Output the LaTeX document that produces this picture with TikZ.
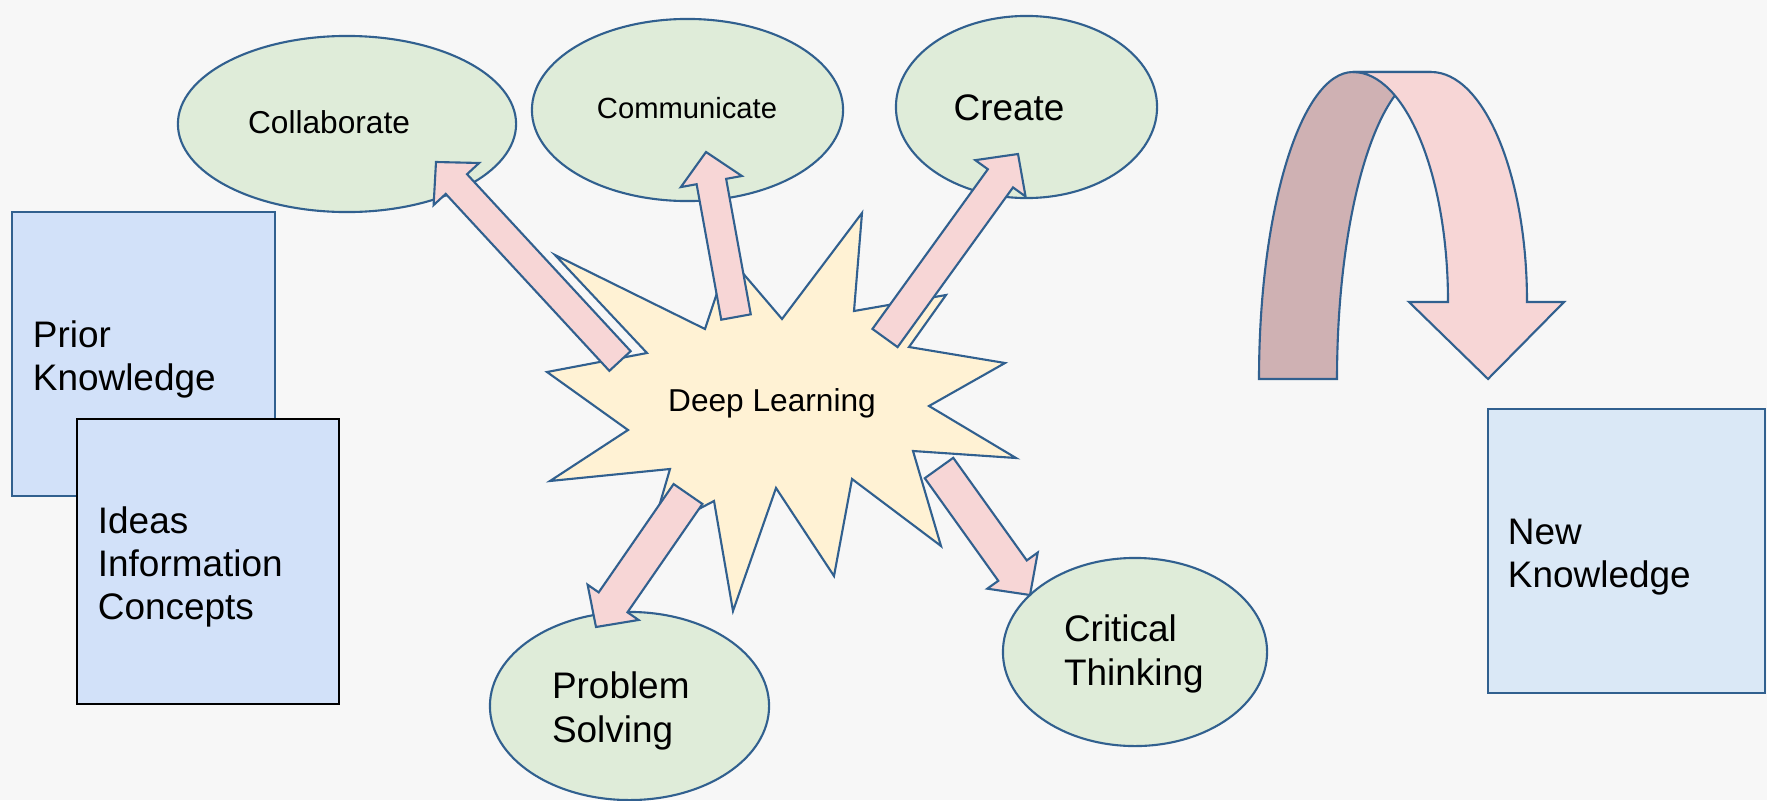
\documentclass[tikz,border=0pt]{standalone}
\usepackage{fontspec}
\setmainfont{Liberation Sans}
\usepackage{tikz}
\usetikzlibrary{calc,shapes.geometric}
\definecolor{bgcol}{HTML}{F7F7F7}
\definecolor{edgeblue}{HTML}{31608F}
\definecolor{bubblegreen}{HTML}{DFECD9}
\definecolor{boxblue}{HTML}{D2E1F9}
\definecolor{newblue}{HTML}{DAE8F6}
\definecolor{starfill}{HTML}{FFF2D4}
\definecolor{arrowpink}{HTML}{F7D6D6}
\definecolor{bandrose}{HTML}{CFB1B3}

% block arrow: #1 tail, #2 tip, #3 half shaft width
\newcommand{\blockarrow}[3]{%
  \coordinate (hb) at ($(#2)!0.3cm!(#1)$);
  \draw[pinkshaft] ($(#1)!#3!90:(#2)$) -- ($(hb)!#3!90:(#2)$)
    -- ($(hb)!0.31cm!90:(#2)$) -- (#2) -- ($(hb)!0.31cm!-90:(#2)$)
    -- ($(hb)!#3!-90:(#2)$) -- ($(#1)!#3!-90:(#2)$) -- cycle;
}

\begin{document}
\begin{tikzpicture}[x=0.01cm,y=-0.01cm,line width=0.6pt,
  bubble/.style={ellipse,draw=edgeblue,fill=bubblegreen,inner sep=0pt},
  kbox/.style={rectangle,draw=edgeblue,fill=boxblue,align=left,
    inner xsep=0.21cm,inner ysep=0pt,font=\bigfont,
    execute at begin node={\rule{0pt}{10.7pt}}},
  pinkshaft/.style={draw=edgeblue,fill=arrowpink,line join=miter},
  bigtext/.style={inner sep=0pt,font=\fontsize{10.5}{12.3}\selectfont},
  midtext/.style={inner sep=0pt,font=\fontsize{9}{11}\selectfont},
  smalltext/.style={inner sep=0pt,font=\fontsize{8.3}{10}\selectfont}]
\def\bigfont{\fontsize{10.5}{12.3}\selectfont}
\useasboundingbox (0,0) rectangle (1767,800);
\fill[bgcol] (0,0) rectangle (1767,800);

% knowledge boxes
\node[kbox,minimum width=2.63cm,minimum height=2.84cm,text width=2.21cm] (prior) at (143.5,354) {Prior\\Knowledge};
\node[kbox,draw=black,minimum width=2.62cm,minimum height=2.85cm,text width=2.20cm] (ideas) at (208,561.5) {Ideas\\Information\\Concepts};

% skills
\node[bubble,minimum width=3.38cm,minimum height=1.76cm] (collab) at (347,124) {};
\node[bubble,minimum width=3.11cm,minimum height=1.82cm] (comm) at (687.5,110) {};
\node[bubble,minimum width=2.61cm,minimum height=1.82cm] (create) at (1026.5,107) {};
\node[bubble,minimum width=2.79cm,minimum height=1.88cm] (prob) at (629.5,706) {};
\node[bubble,minimum width=2.64cm,minimum height=1.88cm] (crit) at (1135,652) {};

% burst
\draw[draw=edgeblue,fill=starfill,line join=miter]
  (555,255) -- (705,329) -- (729,257) -- (782,319) -- (862,213) -- (854,311)
  -- (946,295) -- (909,347) -- (1005,363) -- (929,406) -- (1016,458) -- (913,451)
  -- (941,546) -- (852,479) -- (834,576) -- (776,488) -- (733,611) -- (714,501)
  -- (651,534) -- (670,469) -- (550,481) -- (628,430) -- (547,372) -- (647,353) -- cycle;
\node[midtext] (deep) at (772,403) {Deep Learning};

% arrows out of the burst
\coordinate (t-collab) at (620,361);   \coordinate (h-collab) at (436,162);
\coordinate (t-comm) at (736,317);     \coordinate (h-comm) at (706,152);
\coordinate (t-create) at (885,338);   \coordinate (h-create) at (1018,154);
\coordinate (t-prob) at (688,494);     \coordinate (h-prob) at (596,627);
\coordinate (t-crit) at (939,468);     \coordinate (h-crit) at (1030,595);
\blockarrow{t-collab}{h-collab}{0.145cm}
\blockarrow{t-comm}{h-comm}{0.15cm}
\blockarrow{t-create}{h-create}{0.155cm}
\blockarrow{t-prob}{h-prob}{0.175cm}
\blockarrow{t-crit}{h-crit}{0.175cm}

\node[midtext] (collab-lbl) at (329,122) {Collaborate};
\node[smalltext] (comm-lbl) at (687,108) {Communicate};
\node[bigtext] (create-lbl) at (1009,108) {Create};
\node[bigtext,anchor=west,align=left] (prob-lbl) at (551,711) {Problem\\Solving};
\node[bigtext,anchor=west,align=left] (crit-lbl) at (1063,654) {Critical\\Thinking};

% curved arrow
\draw[draw=edgeblue,fill=bandrose] (1259,379) arc[start angle=180,end angle=270,x radius=94,y radius=307]
  -- (1431,72) arc[start angle=270,end angle=180,x radius=94,y radius=307] -- cycle;
\draw[pinkshaft] (1353,72) -- (1431,72) arc[start angle=270,end angle=360,x radius=96,y radius=230]
  -- (1564,302) -- (1488,379) -- (1409,302) -- (1448,302)
  arc[start angle=0,end angle=-90,x radius=95,y radius=230] -- cycle;

\node[kbox,fill=newblue,minimum width=2.77cm,minimum height=2.84cm,text width=2.37cm,inner xsep=0.20cm] (new) at (1626.5,551) {New\\Knowledge};
\end{tikzpicture}
\end{document}
